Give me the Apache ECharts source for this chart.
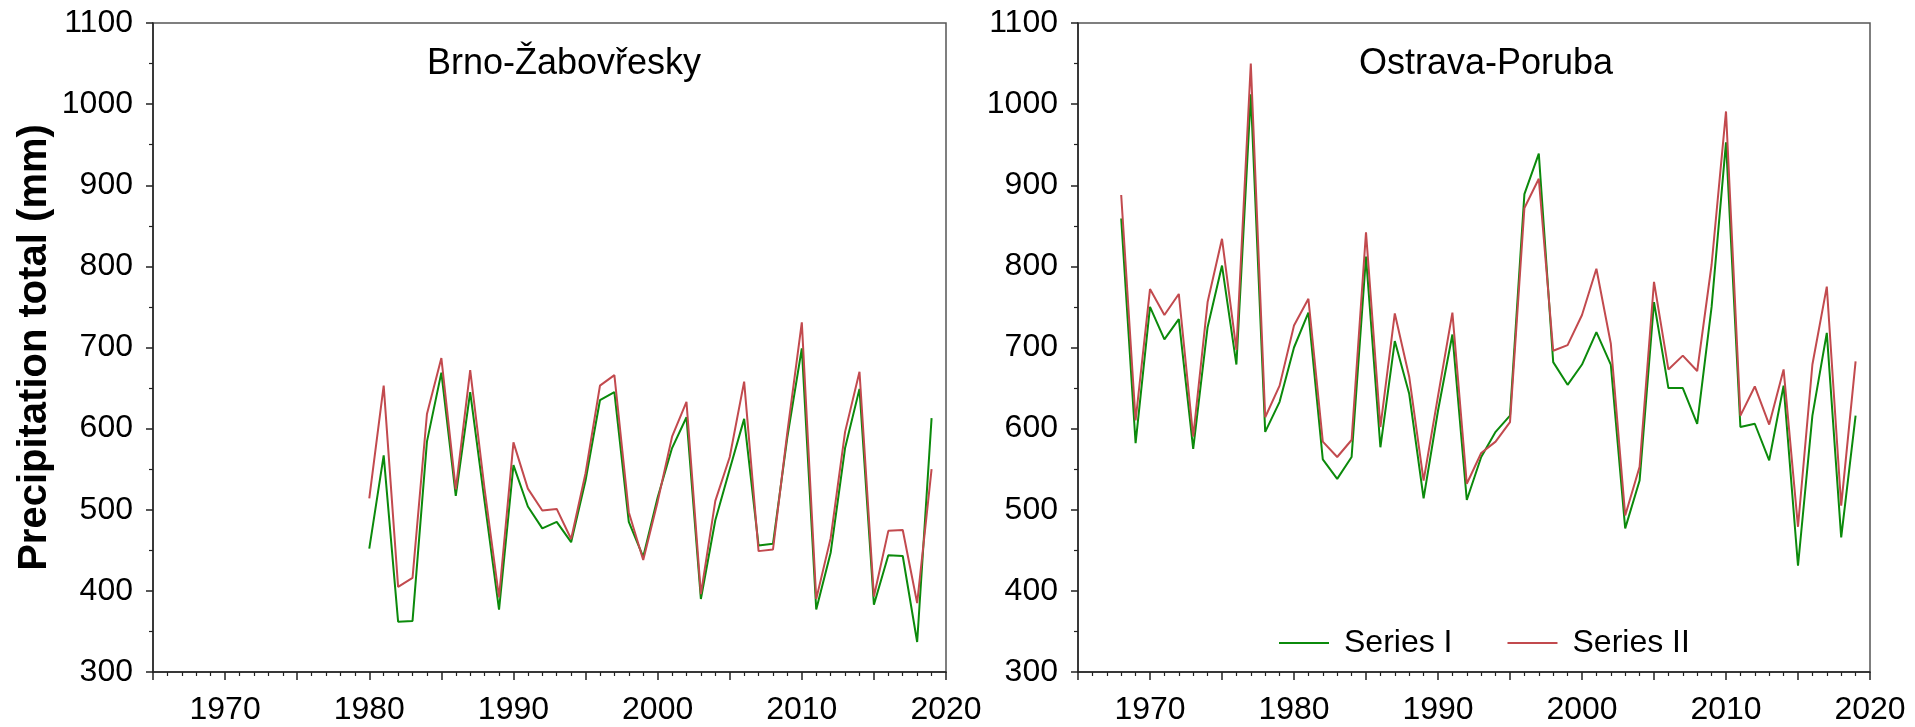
<!DOCTYPE html>
<html>
<head>
<meta charset="utf-8">
<script src="https://cdn.jsdelivr.net/npm/echarts@6/dist/echarts.min.js"></script>
<style>
html,body{margin:0;padding:0;background:#fff;}
#chart{width:1915px;height:727px;}
</style>
</head>
<body>
<div id="chart"></div>
<script>
// ---- data ----
const brnoYears = [1980,1981,1982,1983,1984,1985,1986,1987,1988,1989,1990,1991,1992,1993,1994,1995,1996,1997,1998,1999,2000,2001,2002,2003,2004,2005,2006,2007,2008,2009,2010,2011,2012,2013,2014,2015,2016,2017,2018,2019];
const brnoSeriesI  = [452,567,362,363,584,669,517,645,510,377,555,504,477,485,460,536,635,645,485,442,515,576,614,390,487,550,612,456,458,590,699,377,447,576,649,383,444,443,337,613];
const brnoSeriesII = [514,653,405,416,618,687,525,672,525,392,583,526,499,501,464,545,653,666,497,438,510,590,633,396,511,565,658,449,451,596,731,390,465,596,670,393,474,475,385,550];

const ostravaYears = [1968,1969,1970,1971,1972,1973,1974,1975,1976,1977,1978,1979,1980,1981,1982,1983,1984,1985,1986,1987,1988,1989,1990,1991,1992,1993,1994,1995,1996,1997,1998,1999,2000,2001,2002,2003,2004,2005,2006,2007,2008,2009,2010,2011,2012,2013,2014,2015,2016,2017,2018,2019];
const ostravaSeriesI  = [859,582,750,710,735,575,725,801,679,1012,596,633,700,743,562,538,565,812,577,708,643,514,622,716,512,565,596,616,889,939,682,654,679,719,679,477,536,756,650,650,606,750,953,602,606,561,653,431,616,718,466,616];
const ostravaSeriesII = [888,610,772,740,766,590,756,834,697,1050,614,653,727,760,584,565,586,842,602,742,664,536,640,743,532,570,584,608,872,908,696,703,740,797,705,493,553,781,673,690,671,802,991,616,652,605,673,479,679,775,505,683];

const panelTitles = ['Brno-Žabovřesky', 'Ostrava-Poruba'];
const seriesNames = ['Series I', 'Series II'];
const yAxisTitle = 'Precipitation total (mm)';

// ---- styles ----
const FONT = "'Liberation Sans', Arial, sans-serif";
const GREEN = '#0b8a0b';
const RED = '#c24a4e';
const AXIS = '#222';

function pairs(xs, ys){ return xs.map((x,i)=>[x, ys[i]]); }

function xAxisCfg(gi){
  return {
    type:'value', gridIndex:gi, min:1965, max:2020, interval:5,
    axisLine:{show:true, lineStyle:{color:AXIS, width:1.5}},
    axisTick:{show:true, inside:false, length:8, lineStyle:{color:AXIS, width:1.5}},
    minorTick:{show:true, splitNumber:5, length:4, lineStyle:{color:AXIS, width:1.2}},
    splitLine:{show:false},
    axisLabel:{show:true, margin:22, fontSize:32, color:'#000', fontFamily:FONT,
      formatter:v => (v % 10 === 0 ? String(v) : '')}
  };
}
function yAxisCfg(gi, withName){
  const c = {
    type:'value', gridIndex:gi, min:300, max:1100, interval:100,
    axisLine:{show:true, lineStyle:{color:AXIS, width:1.5}},
    axisTick:{show:true, inside:false, length:7, lineStyle:{color:AXIS, width:1.5}},
    minorTick:{show:true, splitNumber:2, length:4, lineStyle:{color:AXIS, width:1.2}},
    splitLine:{show:false},
    axisLabel:{show:true, margin:20, fontSize:32, color:'#000', fontFamily:FONT,
      formatter:v => String(v)}
  };
  if (withName){
    c.name = yAxisTitle;
    c.nameLocation = 'middle';
    c.nameRotate = 90;
    c.nameGap = 98;
    c.nameTextStyle = {fontSize:40, fontWeight:'bold', color:'#000', fontFamily:FONT};
  }
  return c;
}
function lineSeries(name, data, xi, color, z){
  return {
    name, type:'line', xAxisIndex:xi, yAxisIndex:xi, data,
    symbol:'none', showSymbol:false, z,
    lineStyle:{color, width:2}, itemStyle:{color},
    animation:false
  };
}

const chart = echarts.init(document.getElementById('chart'), null, {renderer:'canvas'});
chart.setOption({
  backgroundColor:'#fff',
  animation:false,
  title:[
    {text:panelTitles[0], left:422, top:41, textStyle:{fontSize:36, fontWeight:'normal', color:'#000', fontFamily:FONT}},
    {text:panelTitles[1], left:1354, top:41, textStyle:{fontSize:36, fontWeight:'normal', color:'#000', fontFamily:FONT}}
  ],
  legend:{
    show:true,
    data:seriesNames, left:1274, top:622, itemWidth:50, itemHeight:2, itemGap:55,
    icon:'rect',
    textStyle:{fontSize:32, color:'#000', fontFamily:FONT, padding:[0,0,0,10]}
  },
  grid:[
    {left:153, top:23, width:793, height:649, show:true, borderColor:'#555', borderWidth:1.5, backgroundColor:'transparent'},
    {left:1078, top:23, width:792, height:649, show:true, borderColor:'#555', borderWidth:1.5, backgroundColor:'transparent'}
  ],
  xAxis:[xAxisCfg(0), xAxisCfg(1)],
  yAxis:[yAxisCfg(0,true), yAxisCfg(1,false)],
  series:[
    lineSeries(seriesNames[0], pairs(brnoYears, brnoSeriesI), 0, GREEN, 2),
    lineSeries(seriesNames[1], pairs(brnoYears, brnoSeriesII), 0, RED, 3),
    lineSeries(seriesNames[0], pairs(ostravaYears, ostravaSeriesI), 1, GREEN, 2),
    lineSeries(seriesNames[1], pairs(ostravaYears, ostravaSeriesII), 1, RED, 3)
  ]
});
</script>
</body>
</html>
